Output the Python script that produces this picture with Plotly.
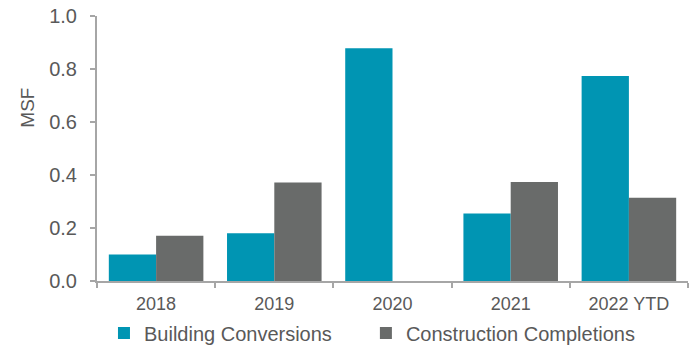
import plotly.graph_objects as go

categories = ["2018", "2019", "2020", "2021", "2022 YTD"]
building_conversions = [0.10, 0.18, 0.878, 0.255, 0.774]
construction_completions = [0.171, 0.372, 0.0, 0.374, 0.314]
y_ticks = [0.0, 0.2, 0.4, 0.6, 0.8, 1.0]
y_tick_labels = ["0.0", "0.2", "0.4", "0.6", "0.8", "1.0"]

BLUE = "#0095B3"
GRAY = "#696B6A"
TEXT = "#595959"
AXIS = "#A6A6A6"
FONT = "Liberation Sans, Arial, sans-serif"

fig = go.Figure()
fig.add_trace(go.Bar(x=categories, y=building_conversions, name="Building Conversions",
                     marker=dict(color=BLUE, line=dict(width=0)), legend="legend"))
fig.add_trace(go.Bar(x=categories, y=construction_completions, name="Construction Completions",
                     marker=dict(color=GRAY, line=dict(width=0)), legend="legend2"))

legend_style = dict(orientation="h", xanchor="left", y=-0.196, yanchor="middle",
                    font=dict(size=20, color=TEXT, family=FONT),
                    itemwidth=30, bgcolor="rgba(0,0,0,0)")

fig.update_layout(
    width=695, height=346,
    margin=dict(l=97, r=7, t=16, b=65, autoexpand=False),
    paper_bgcolor="white", plot_bgcolor="white",
    barmode="group", bargap=0.2, bargroupgap=0,
    font=dict(family=FONT, color=TEXT),
    showlegend=True,
    legend=dict(x=0.0118, **legend_style),
    legend2=dict(x=0.455, **legend_style),
    xaxis=dict(showline=True, linecolor=AXIS, linewidth=2, ticks="outside", tickson="boundaries",
               ticklen=5, tickcolor=AXIS, tickwidth=2, showgrid=False, ticklabelstandoff=5,
               tickfont=dict(size=18, color=TEXT, family=FONT)),
    yaxis=dict(range=[0, 1.0], tickvals=y_ticks, ticktext=y_tick_labels, showline=True,
               linecolor=AXIS, linewidth=2, ticks="outside", ticklen=5, tickcolor=AXIS, tickwidth=2,
               showgrid=False, zeroline=False, ticklabelstandoff=9,
               tickfont=dict(size=20, color=TEXT, family=FONT)),
    annotations=[dict(text="MSF", textangle=-90, xref="paper", yref="paper",
                      x=-0.1168, y=0.654, xanchor="center", yanchor="middle", showarrow=False,
                      font=dict(size=19, color=TEXT, family=FONT))],
)

fig.write_html("out.html")
